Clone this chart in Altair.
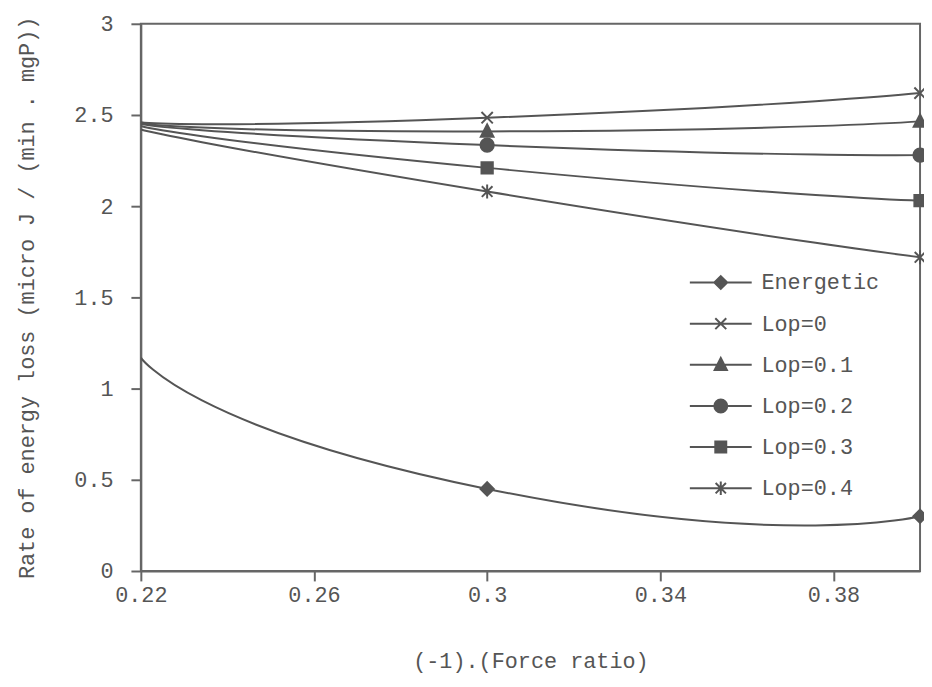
import altair as alt
import pandas as pd

# ---- data ----
force_ratio = [0.22, 0.30, 0.40]
series_names = ["Energetic", "Lop=0", "Lop=0.1", "Lop=0.2", "Lop=0.3", "Lop=0.4"]
energetic = [1.17, 0.45, 0.30]
lop_0 = [2.46, 2.485, 2.62]
lop_01 = [2.455, 2.41, 2.465]
lop_02 = [2.45, 2.335, 2.28]
lop_03 = [2.44, 2.21, 2.03]
lop_04 = [2.42, 2.08, 1.72]
x_ticks = [0.22, 0.26, 0.30, 0.34, 0.38]
y_ticks = [0, 0.5, 1, 1.5, 2, 2.5, 3]

all_values = [energetic, lop_0, lop_01, lop_02, lop_03, lop_04]
rows = []
for name, vals in zip(series_names, all_values):
    for x, v in zip(force_ratio, vals):
        rows.append({"series": name, "x": x, "y": v})
df = pd.DataFrame(rows)

# marker shapes (unit paths)
shape_paths = [
    "M0,-1L1,0L0,1L-1,0Z",                                   # diamond
    "M-0.85,-0.85L0.85,0.85M-0.85,0.85L0.85,-0.85",          # x
    "M0,-1.05L0.95,0.8L-0.95,0.8Z",                          # triangle
    "M1,0A1,1,0,1,1,-1,0A1,1,0,1,1,1,0Z",                    # circle
    "M-0.85,-0.85H0.85V0.85H-0.85Z",                         # square
    "M-0.8,-0.8L0.8,0.8M-0.8,0.8L0.8,-0.8M0,-1.05L0,1.05",   # asterisk
]
legend_line = "M-4.8,0L4.8,0"
legend_paths = [p + legend_line for p in shape_paths]

GRAY = "#555555"
FONT = "Liberation Mono"
FS = 22

legend = alt.Legend(
    title=None,
    orient="none",
    legendX=548,
    legendY=250,
    labelFont=FONT,
    labelFontSize=FS,
    labelColor=GRAY,
    labelOffset=30,
    symbolOffset=26,
    symbolSize=169,
    symbolStrokeWidth=2,
    symbolOpacity=1,
    rowPadding=19.5,
)

x_enc = alt.X(
    "x:Q",
    scale=alt.Scale(domain=[0.22, 0.40], nice=False, zero=False),
    axis=alt.Axis(
        values=x_ticks,
        format=".2~f",
        title="(-1).(Force ratio)",
        titlePadding=45,
        labelPadding=4,
        labelFlush=False,
    ),
)
y_enc = alt.Y(
    "y:Q",
    scale=alt.Scale(domain=[0, 3], nice=False),
    axis=alt.Axis(
        values=y_ticks,
        format=".1~f",
        title="Rate of energy loss (micro J / (min . mgP))",
        titlePadding=36,
        labelPadding=18,
        labelFlush=False,
    ),
)

lines = alt.Chart(df).mark_line(
    interpolate="cardinal", tension={"expr": "-1.3"}, color=GRAY, strokeWidth=2, clip=True
).encode(x=x_enc, y=y_enc, detail="series:N")

points = alt.Chart(df).transform_filter(alt.datum.x >= 0.3).mark_point(
    fill=GRAY, stroke=GRAY, strokeWidth=2, opacity=1, size=180
).encode(
    x="x:Q",
    y="y:Q",
    shape=alt.Shape(
        "series:N",
        scale=alt.Scale(domain=series_names, range=shape_paths),
        legend=None,
    ),
)

# layer that only feeds the legend (its marks have zero size)
legend_layer = alt.Chart(df).transform_filter(alt.datum.x >= 0.3).mark_point(
    fill=GRAY, stroke=GRAY, strokeWidth=2, size=0, opacity=1
).encode(
    x="x:Q",
    y="y:Q",
    shape=alt.Shape(
        "series:N",
        scale=alt.Scale(domain=series_names, range=legend_paths),
        legend=legend,
    ),
)

chart = (
    alt.layer(lines, points, legend_layer)
    .resolve_scale(shape="independent")
    .properties(
        width=786,
        height=552,
        autosize=alt.AutoSizeParams(type="none"),
        padding={"left": 134, "top": 13, "right": 4, "bottom": 104},
        background="white",
    )
    .configure_view(stroke="#666666", strokeWidth=2)
    .configure_axis(
        grid=False,
        domainColor="#666666",
        domainWidth=2,
        tickColor="#666666",
        tickWidth=2,
        tickSize=10,
        labelFont=FONT,
        labelFontSize=FS,
        labelColor=GRAY,
        titleFont=FONT,
        titleFontSize=FS,
        titleFontWeight="normal",
        titleColor=GRAY,
    )
)

chart.save("out.html", embed_options={"renderer": "svg", "actions": False})
